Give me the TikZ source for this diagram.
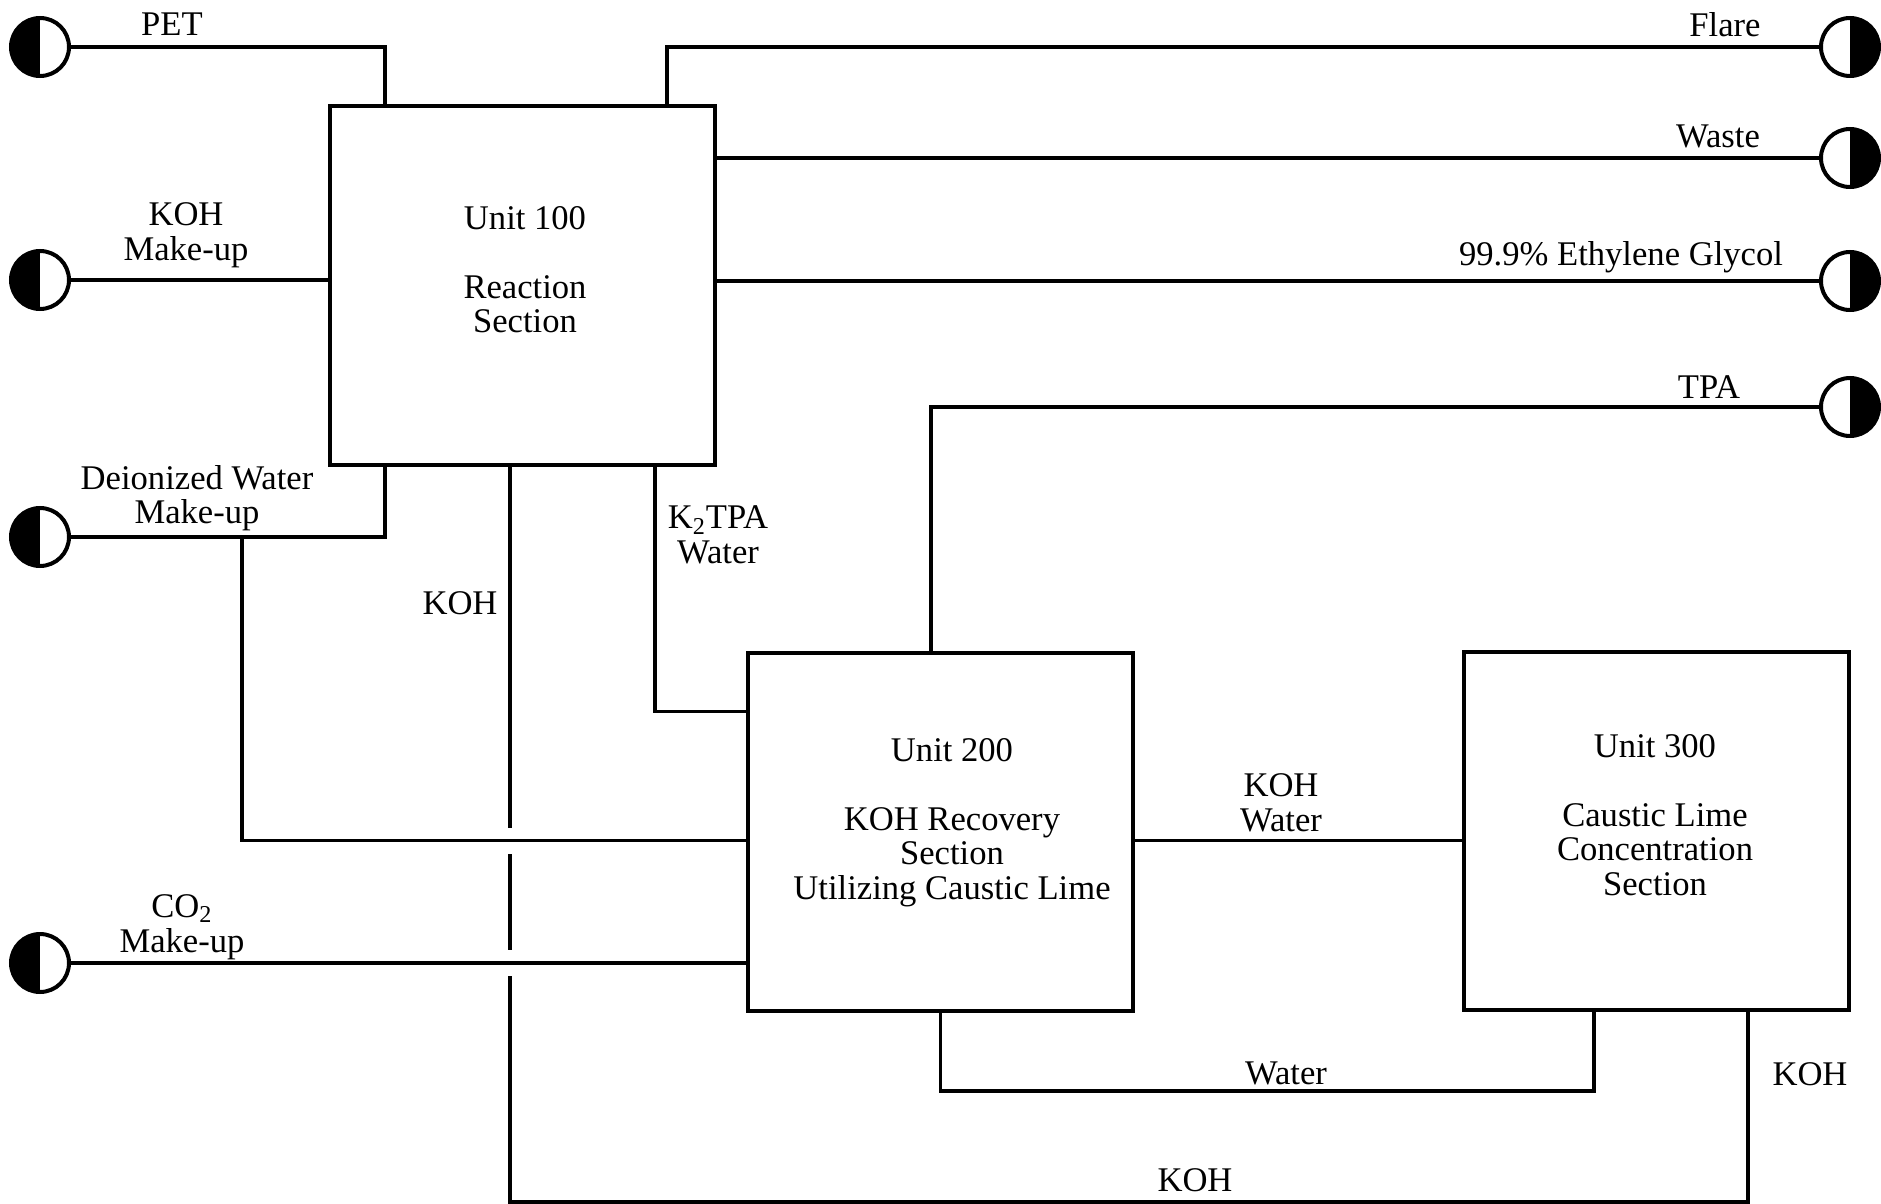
\documentclass[tikz,border=0pt]{standalone}
\usepackage{fontspec}
\setmainfont{Liberation Serif}
\usetikzlibrary{calc}

\begin{document}
\begin{tikzpicture}[
  x=0.5pt, y=-0.5pt,
  unit/.style={rectangle, draw, line width=2pt, minimum width=192.5pt, minimum height=179pt, inner sep=0pt},
  utext/.style={align=center, inner sep=0pt, font=\fontsize{17.3}{17.25}\selectfont},
  lbl/.style={align=center, inner sep=0pt, font=\fontsize{17.3}{17.25}\selectfont},
  feed/.style={circle, draw, line width=2pt, minimum size=29pt, inner sep=0pt,
    path picture={\fill (path picture bounding box.south west) rectangle (path picture bounding box.north);}},
  product/.style={circle, draw, line width=2pt, minimum size=29pt, inner sep=0pt,
    path picture={\fill (path picture bounding box.south) rectangle (path picture bounding box.north east);}},
  stream/.style={line width=1.8pt},
]
  \useasboundingbox (0,0) rectangle (1881,1204);

  \node[unit] (u100) at (522.5,285.5) {};
  \node[unit] (u200) at (940.5,831.5) {};
  \node[unit] (u300) at (1656.5,830.5) {};
  \node[utext] (u100txt) at (525,269.5) {Unit 100\\[17.25pt]Reaction\\Section};
  \node[utext] (u200txt) at (952,822.5) {Unit 200\\[17.25pt]KOH Recovery\\Section\\Utilizing Caustic Lime};
  \node[utext] (u300txt) at (1655,815) {Unit 300\\[17.25pt]Caustic Lime\\Concentration\\Section};

  % battery limits
  \node[feed] (pet) at (40,47) {};
  \node[feed] (kohmu) at (40,280) {};
  \node[feed] (diw) at (40,537) {};
  \node[feed] (co2) at (40,963) {};
  \node[product] (flare) at (1850,47) {};
  \node[product] (waste) at (1850,158) {};
  \node[product] (eg) at (1850,281) {};
  \node[product] (tpa) at (1850,407) {};

  \coordinate (kbot) at (510,1202);
  \coordinate (wret) at (1594,1091);

  % KOH return, broken where it crosses
  \draw[stream] (kbot |- u100.south) -- (kbot) -| ($(u300.south west)+(286,0)$);
  \fill[white] ($(kbot |- u200.west)+(-6,-4)$) rectangle ++(12,26);
  \fill[white] ($(kbot |- co2)+(-6,-13)$) rectangle ++(12,26);

  \draw[stream] (pet) -| ($(u100.north west)+(57,0)$);
  \draw[stream] (kohmu) -- (kohmu -| u100.west);
  \draw[stream] (diw) -| ($(u100.south west)+(57,0)$);
  \draw[stream] ($(diw)+(202,0)$) |- ($(u200.west)+(0,9)$);
  \draw[stream] (co2) -- (co2 -| u200.west);
  \draw[stream] ($(u100.south west)+(327,0)$) |- ($(u200.north west)+(0,61)$);
  \draw[stream] (flare) -| ($(u100.north west)+(339,0)$);
  \draw[stream] (waste) -- (waste -| u100.east);
  \draw[stream] (eg) -- (eg -| u100.east);
  \draw[stream] (tpa) -| ($(u200.north west)+(185,0)$);
  \draw[stream] ($(u200.east)+(0,9)$) -- ($(u300.west)+(0,10)$);
  \draw[stream] (u200.south) |- (wret) -- (wret |- u300.south);

  \node[lbl, anchor=base] (petl) at (172,36) {PET};
  \node[lbl] (kohmul) at (186,235) {KOH\\Make-up};
  \node[lbl] (diwl) at (197,498) {Deionized Water\\Make-up};
  \node[lbl] (co2l) at (182,927) {CO\textsubscript{2}\\Make-up};
  \node[lbl, anchor=base] (kohvl) at (460,614) {KOH};
  \node[lbl] (k2tpal) at (718,535) {K\textsubscript{2}TPA\\Water};
  \node[lbl] (kwl) at (1281,803) {KOH\\Water};
  \node[lbl, anchor=base] (waterl) at (1286,1084) {Water};
  \node[lbl, anchor=base] (kohrl) at (1810,1085) {KOH};
  \node[lbl, anchor=base] (kohbl) at (1195,1191) {KOH};
  \node[lbl, anchor=base] (flarel) at (1725,37) {Flare};
  \node[lbl, anchor=base] (wastel) at (1718,148) {Waste};
  \node[lbl, anchor=base] (egl) at (1621,265) {99.9\% Ethylene Glycol};
  \node[lbl, anchor=base] (tpal) at (1709,398) {TPA};
\end{tikzpicture}
\end{document}
